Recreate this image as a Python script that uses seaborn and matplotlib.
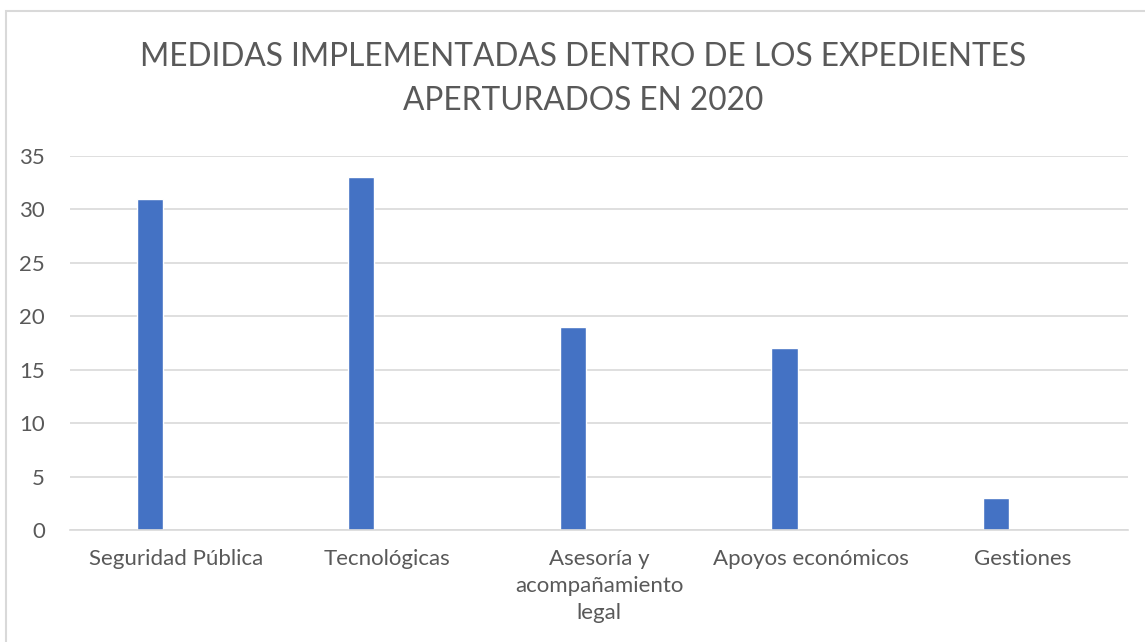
import matplotlib
matplotlib.use("Agg")
import matplotlib.pyplot as plt
import seaborn as sns
import pandas as pd
from matplotlib.patches import Rectangle

categorias = [
    "Seguridad Pública",
    "Tecnológicas",
    "Asesoría y\nacompañamiento\nlegal",
    "Apoyos económicos",
    "Gestiones",
]
valores = [31, 33, 19, 17, 3]
series = ["Serie1", "Serie2", "Serie3"]  # Excel-style grouping, only Serie1 has data
titulo = "MEDIDAS IMPLEMENTADAS DENTRO DE LOS EXPEDIENTES\nAPERTURADOS EN 2020"

TEXT = "#595959"
GRID = "#d9d9d9"
BAR = "#4472c4"

sns.set_theme(style="white")
plt.rcParams["font.family"] = ["Lato", "DejaVu Sans"]

df = pd.DataFrame({"categoria": categorias, "valor": valores, "serie": series[0]})

W, H = 1145, 642
fig = plt.figure(figsize=(W / 100, H / 100), dpi=100)
ax = fig.add_axes([70 / W, 1 - 530 / H, (1128 - 70) / W, (530 - 156) / H])

sns.barplot(
    data=df, x="categoria", y="valor", hue="serie", hue_order=series,
    order=categorias, palette={s: BAR for s in series}, width=0.37,
    dodge=True, saturation=1, legend=False, ax=ax,
)

ax.set_ylim(0, 35)
ax.set_yticks(range(0, 36, 5))
ax.set_xlim(-0.5, len(categorias) - 0.5)
ax.yaxis.grid(True, color=GRID, linewidth=1.2)
ax.set_axisbelow(True)
for s in ["top", "right", "left"]:
    ax.spines[s].set_visible(False)
ax.spines["bottom"].set_color(GRID)
ax.spines["bottom"].set_linewidth(1.2)
ax.tick_params(axis="both", length=0, labelsize=16, colors=TEXT)
ax.tick_params(axis="y", pad=18)
ax.tick_params(axis="x", pad=14)
for lbl in ax.get_xticklabels():
    lbl.set_linespacing(1.42)
ax.set_xlabel("")
ax.set_ylabel("")

fig.text(583 / W, 1 - 79 / H, titulo, ha="center", va="center",
         fontsize=22.8, color=TEXT, linespacing=1.62)

fig.patches.append(Rectangle((6 / W, -0.1), 1.2, 1 - 11 / H + 0.1,
                             transform=fig.transFigure, fill=False,
                             edgecolor=GRID, linewidth=1.5))

fig.savefig("out.png", dpi=100)
